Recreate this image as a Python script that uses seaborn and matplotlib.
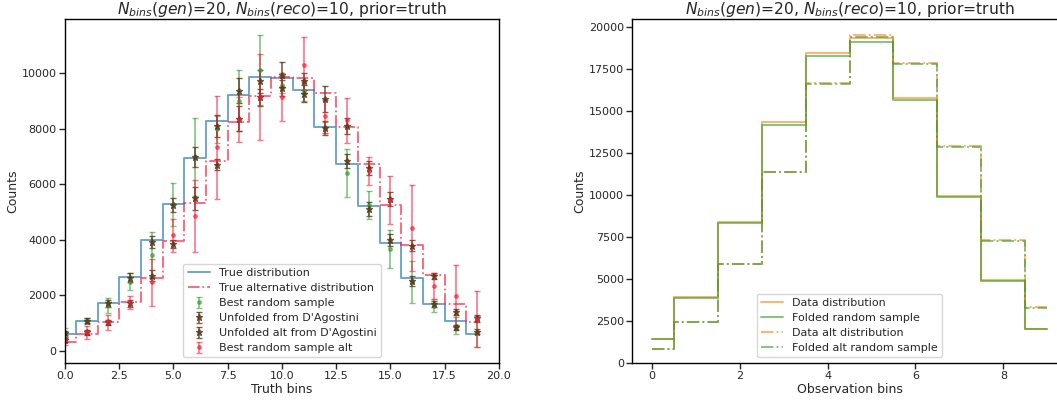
import numpy as np
import matplotlib
matplotlib.use("Agg")
import matplotlib.pyplot as plt
import seaborn as sns

# ---------------- data: left panel (truth bins) ----------------
truth_bins = list(range(20))
true_dist = [610, 1088, 1711, 2667, 3983, 5274, 6949, 8265, 9210, 9856,
             9820, 9377, 8049, 6746, 5215, 3875, 2631, 1686, 1064, 610]
true_alt_dist = [335, 610, 1052, 1747, 2643, 3959, 5334, 6830, 8229, 9162,
                 9844, 9820, 9282, 8049, 6734, 5239, 3803, 2727, 1686, 1028]

best_sample = [660, 1088, 1650, 2500, 3460, 5275, 6980, 7970, 9000, 10120,
               9580, 9340, 8030, 6400, 5245, 3660, 2490, 1627, 910, 700]
best_sample_err = [150, 110, 270, 300, 820, 780, 1400, 500, 1100, 1256,
                   300, 330, 200, 850, 500, 690, 750, 240, 300, 570]

unfolded = [640, 1088, 1710, 2643, 3923, 5250, 6980, 8086, 9370, 9700,
            9940, 9260, 8025, 6830, 5096, 3983, 2524, 1687, 850, 694]
unfolded_err = [80, 90, 110, 150, 230, 250, 350, 400, 450, 400,
                450, 300, 250, 250, 250, 220, 180, 120, 100, 90]

unfolded_alt = [380, 670, 1030, 1720, 2703, 3860, 5490, 6710, 8360, 9127,
                9460, 9700, 9067, 8100, 6590, 5455, 3780, 2703, 1411, 1172]
unfolded_alt_err = [70, 80, 100, 120, 200, 150, 400, 200, 450, 300,
                    300, 300, 450, 300, 250, 250, 200, 120, 100, 120]

best_sample_alt = [350, 670, 1030, 1750, 2470, 4160, 4860, 7330, 8330, 9130,
                   9130, 10300, 8443, 8300, 6470, 5430, 4440, 2340, 1968, 1150]
best_sample_alt_err = [150, 230, 270, 240, 840, 600, 1300, 1850, 800, 1550,
                       870, 1000, 600, 800, 500, 860, 1550, 480, 1118, 1017]

# ---------------- data: right panel (observation bins) ----------------
obs_bins = list(range(10))
data_dist = [1452, 3930, 8393, 14327, 18452, 19310, 15774, 9940, 4923, 2048]
folded_sample = [1430, 3870, 8333, 14168, 18254, 19107, 15635, 9840, 4863, 2010]
data_alt_dist = [857, 2440, 5915, 11370, 16667, 19506, 17821, 12897, 7302, 3333]
folded_alt_sample = [840, 2420, 5880, 11350, 16587, 19405, 17762, 12857, 7280, 3274]

title = r"$N_{bins}(gen)$=20, $N_{bins}(reco)$=10, prior=truth"

# ---------------- style ----------------
sns.set_style("ticks")
plt.rcParams["font.family"] = ["DejaVu Sans"]
plt.rcParams["mathtext.fontset"] = "dejavusans"
plt.rcParams["xtick.labelsize"] = 8
plt.rcParams["ytick.labelsize"] = 8
plt.rcParams["axes.labelsize"] = 9
plt.rcParams["axes.titlesize"] = 11.2
plt.rcParams["legend.fontsize"] = 8
plt.rcParams["axes.edgecolor"] = "black"

fig = plt.figure(figsize=(10.57, 4.0), dpi=100)
ax1 = fig.add_axes([0.0615, 0.0925, 0.4105, 0.8595])
ax2 = fig.add_axes([0.598, 0.0925, 0.4115, 0.8595])

c_blue = "#1f77b4"
c_red = "#ff1a3c"
c_green = "#2ca02c"
c_brown = "#5b3a1c"
c_orange = "#ff7f0e"

# left panel
sns.lineplot(x=truth_bins, y=true_dist, ax=ax1,
             color=c_blue, alpha=0.65, lw=1.4, label="True distribution")
ax1.lines[-1].set_drawstyle("steps-mid")
sns.lineplot(x=truth_bins, y=true_alt_dist, ax=ax1, color=c_red, alpha=0.7,
             lw=1.3, ls="-.", label="True alternative distribution")
ax1.lines[-1].set_drawstyle("steps-mid")

ax1.errorbar(truth_bins, best_sample, yerr=best_sample_err, fmt="o", ms=2.5,
             color=c_green, alpha=0.6, capsize=2, elinewidth=1.2,
             label="Best random sample")
ax1.errorbar(truth_bins, unfolded, yerr=unfolded_err, fmt="*", ms=5,
             color=c_brown, alpha=0.8, capsize=2, elinewidth=1.2,
             label="Unfolded from D'Agostini")
ax1.errorbar(truth_bins, unfolded_alt, yerr=unfolded_alt_err, fmt="*", ms=5,
             color=c_brown, alpha=0.8, capsize=2, elinewidth=1.2,
             label="Unfolded alt from D'Agostini")
ax1.errorbar(truth_bins, best_sample_alt, yerr=best_sample_alt_err, fmt="o",
             ms=2.5, color=c_red, alpha=0.6, capsize=2, elinewidth=1.2,
             label="Best random sample alt")

ax1.set_xlim(0, 20)
ax1.set_xlabel("Truth bins", labelpad=1)
ax1.set_ylabel("Counts", labelpad=2)
ax1.set_title(title, pad=3)
ax1.legend(loc="lower center", frameon=True, labelspacing=0.45)

# right panel
sns.lineplot(x=obs_bins, y=data_dist, ax=ax2, color=c_orange, alpha=0.6,
             lw=1.4, label="Data distribution")
ax2.lines[-1].set_drawstyle("steps-mid")
sns.lineplot(x=obs_bins, y=folded_sample, ax=ax2, color=c_green, alpha=0.6,
             lw=1.4, label="Folded random sample")
ax2.lines[-1].set_drawstyle("steps-mid")
sns.lineplot(x=obs_bins, y=data_alt_dist, ax=ax2, color=c_orange, alpha=0.6,
             lw=1.4, ls="-.", label="Data alt distribution")
ax2.lines[-1].set_drawstyle("steps-mid")
sns.lineplot(x=obs_bins, y=folded_alt_sample, ax=ax2, color=c_green, alpha=0.6,
             lw=1.4, ls="-.", label="Folded alt random sample")
ax2.lines[-1].set_drawstyle("steps-mid")

ax2.set_ylim(bottom=0)
ax2.set_xlabel("Observation bins", labelpad=1)
ax2.set_ylabel("Counts", labelpad=2)
ax2.set_title(title, pad=3)
ax2.legend(loc="lower center", frameon=True, labelspacing=0.45)

for ax in (ax1, ax2):
    ax.tick_params(direction="out", length=4, width=1, pad=2)
    for s in ax.spines.values():
        s.set_linewidth(1.0)

fig.savefig("out.png", dpi=100)
